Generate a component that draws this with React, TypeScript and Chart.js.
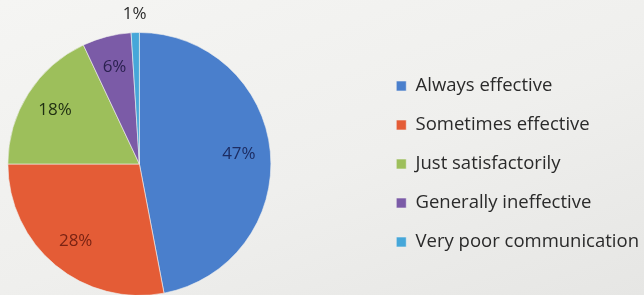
import { useEffect, useRef } from "react";
import { Chart, registerables } from "chart.js";

Chart.register(...registerables);

const categories = [
  "Always effective",
  "Sometimes effective",
  "Just satisfactorily",
  "Generally ineffective",
  "Very poor communication",
];
const shares = [47, 28, 18, 6, 1];
const sliceColors = ["#4a7fcc", "#e45c36", "#9dbf5b", "#7b5ba7", "#46a7d9"];
const labelColors = ["#1d2d63", "#7a2313", "#1f2e12", "#2b2150", "#2b2b2b"];

const FONT = "'Open Sans', 'Noto Sans', sans-serif";

const pctLabels = {
  id: "pctLabels",
  afterDatasetsDraw(chart: any) {
    const ctx = chart.ctx;
    const meta = chart.getDatasetMeta(0);
    const data = chart.data.datasets[0].data as number[];
    ctx.save();
    ctx.font = `17px ${FONT}`;
    ctx.textAlign = "center";
    ctx.textBaseline = "middle";
    meta.data.forEach((arc: any, i: number) => {
      const { x, y, startAngle, endAngle, outerRadius } = arc.getProps(
        ["x", "y", "startAngle", "endAngle", "outerRadius"],
        true
      );
      const mid = (startAngle + endAngle) / 2;
      const small = data[i] < 3;
      const r = small ? outerRadius + 18 : outerRadius * 0.76;
      ctx.fillStyle = labelColors[i];
      ctx.fillText(`${data[i]}%`, x + Math.cos(mid) * r, y + Math.sin(mid) * r);
    });
    ctx.restore();
  },
};

const CANVAS_W = 746;
const CANVAS_H = 310;
const SHIFT_X = 97;

export default function App() {
  const ref = useRef<HTMLCanvasElement>(null);
  useEffect(() => {
    if (!ref.current) return;
    const chart = new Chart(ref.current, {
      type: "pie",
      data: {
        labels: categories,
        datasets: [
          {
            data: shares,
            backgroundColor: sliceColors,
            borderColor: "rgba(240,240,238,0.6)",
            borderWidth: 1,
          },
        ],
      },
      options: {
        animation: false,
        responsive: false,
        devicePixelRatio: 1,
        layout: { padding: { top: 32, bottom: 14, left: 0, right: 0 } },
        plugins: {
          tooltip: { enabled: false },
          legend: {
            position: "right",
            labels: {
              boxWidth: 10,
              boxHeight: 10,
              padding: 20.5,
              color: "#2a2a2a",
              font: { family: FONT, size: 18.5 },
            },
          },
        },
      },
      plugins: [pctLabels],
    });
    return () => chart.destroy();
  }, []);
  return (
    <div
      style={{
        position: "fixed",
        left: 0,
        top: 0,
        width: 644,
        height: 295,
        overflow: "hidden",
        background: "linear-gradient(160deg, #f5f5f3 0%, #efefed 55%, #e6e6e4 100%)",
      }}
    >
      <canvas
        ref={ref}
        width={CANVAS_W}
        height={CANVAS_H}
        style={{ position: "absolute", left: -SHIFT_X, top: 0, width: CANVAS_W, height: CANVAS_H, display: "block" }}
      />
    </div>
  );
}
